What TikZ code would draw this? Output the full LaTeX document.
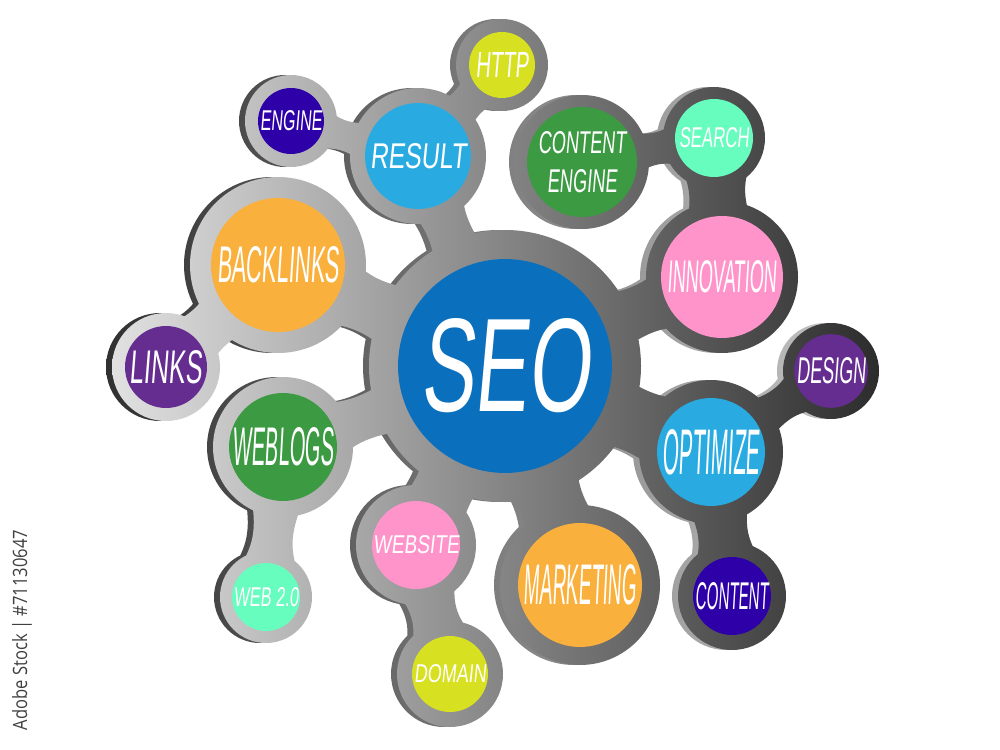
\documentclass[tikz,border=0pt]{standalone}
\usepackage{fontspec}
\usepackage{graphicx}
\usetikzlibrary{calc,backgrounds}
\newfontfamily\hand[FakeSlant=0.15]{Liberation Sans}
\newfontfamily\marksans{Open Sans}
\newlength{\px}\setlength{\px}{0.02cm}
\newcommand{\lbl}[3]{\resizebox{#1\px}{#2\px}{\hand #3}}
\definecolor{seoblue}{HTML}{0A70BE}
\definecolor{tangerine}{HTML}{F9B03C}
\definecolor{grape}{HTML}{662D91}
\definecolor{leaf}{HTML}{3C9A42}
\definecolor{mint}{HTML}{66FDBE}
\definecolor{rose}{HTML}{FF94CB}
\definecolor{lime}{HTML}{D7E021}
\definecolor{sky}{HTML}{29ABE2}
\definecolor{indigo}{HTML}{2E00A8}
\definecolor{ringlight}{HTML}{E4E4E4}
\definecolor{ringmid}{HTML}{A8A8A8}
\definecolor{ringdark}{HTML}{2C2C2C}
% neck between two rings: from, to, pinch fraction, end offset, half width
\newcommand{\neck}[5]{($(#1)!#4*0.02cm!90:(#2)$) .. controls ($(#1)!#3!(#2)!0.02cm*(4*#5-#4)/3!90:(#2)$) .. ($(#2)!#4*0.02cm!-90:(#1)$)
  -- ($(#2)!#4*0.02cm!90:(#1)$) .. controls ($(#1)!#3!(#2)!0.02cm*(4*#5-#4)/3!-90:(#2)$) .. ($(#1)!#4*0.02cm!-90:(#2)$) -- cycle}
\newcommand{\blob}{(seo) circle (136) (backlinks) circle (88) (links) circle (54) (weblogs) circle (70)
  (webtwo) circle (46) (website) circle (60) (domain) circle (53) (marketing) circle (80)
  (result) circle (68) (engine) circle (46) (http) circle (46) (contengine) circle (67)
  (search) circle (51) (innovation) circle (76) (design) circle (48) (optimize) circle (72) (content) circle (54)
  \neck{seo}{backlinks}{0.633}{80}{28} \neck{backlinks}{links}{0.647}{48}{24}
  \neck{seo}{weblogs}{0.687}{62}{22} \neck{weblogs}{webtwo}{0.607}{42}{20}
  \neck{seo}{website}{0.753}{55}{30} \neck{website}{domain}{0.54}{48}{23}
  \neck{seo}{marketing}{0.66}{74}{32} \neck{seo}{result}{0.70}{60}{22}
  \neck{result}{engine}{0.607}{42}{15} \neck{result}{http}{0.62}{42}{17}
  \neck{seo}{innovation}{0.673}{70}{25} \neck{innovation}{search}{0.62}{48}{28}
  \neck{search}{contengine}{0.42}{46}{16} \neck{seo}{optimize}{0.687}{66}{32}
  \neck{optimize}{design}{0.607}{44}{17} \neck{optimize}{content}{0.58}{50}{25}}

\begin{document}
\begin{tikzpicture}[x=0.02cm,y=-0.02cm,disc/.style={circle,inner sep=0pt,minimum size=#1*0.04cm,text=white}]
    \useasboundingbox (0,0) rectangle (1000,750);
    \node[disc=107,fill=seoblue] (seo) at (505,366) {\lbl{170}{93}{SEO}};
    \node[disc=67,fill=tangerine] (backlinks) at (278,265) {\lbl{122}{36}{BACKLINKS}};
    \node[disc=41,fill=grape] (links) at (166,367) {\lbl{72}{33}{LINKS}};
    \node[disc=54,fill=leaf] (weblogs) at (283,447) {\lbl{101}{38}{WEBLOGS}};
    \node[disc=34,fill=mint] (webtwo) at (266,597) {\lbl{65}{19}{WEB 2.0}};
    \node[disc=44,fill=rose] (website) at (416,545) {\lbl{86}{18}{WEBSITE}};
    \node[disc=38,fill=lime] (domain) at (450,674) {\lbl{72}{18}{DOMAIN}};
    \node[disc=62,fill=tangerine] (marketing) at (580,585) {\lbl{113}{40}{MARKETING}};
    \node[disc=53,fill=sky] (result) at (418,156) {\lbl{96}{25}{RESULT}};
    \node[disc=33,fill=indigo] (engine) at (291,121) {\lbl{62}{20}{ENGINE}};
    \node[disc=33,fill=lime] (http) at (502,65) {\lbl{53}{25}{HTTP}};
    \node[disc=55,fill=leaf,align=center] (contengine) at (582,162) {\lbl{88}{22}{CONTENT}\\[14\px]\lbl{70}{23}{ENGINE}};
    \node[disc=39,fill=mint] (search) at (714,138) {\lbl{70}{20}{SEARCH}};
    \node[disc=61,fill=rose] (innovation) at (722,277) {\lbl{110}{32}{INNOVATION}};
    \node[disc=36,fill=grape] (design) at (831,371) {\lbl{69}{26}{DESIGN}};
    \node[disc=54,fill=sky] (optimize) at (711,452) {\lbl{97}{45}{OPTIMIZE}};
    \node[disc=39,fill=indigo] (content) at (732,596) {\lbl{73}{27}{CONTENT}};
    \node[rotate=90,text=black!75] (stockmark) at (22,630) {\resizebox{200\px}{15\px}{\marksans Adobe Stock | \#71130647}};
    \begin{pgfonlayer}{background}
    \begin{scope}[transform canvas={xshift=-0.12cm}]
        \clip \blob;
        \shade[left color=ringdark,right color=ringlight!90!black] (90,0) rectangle (900,750);
    \end{scope}
    \begin{scope}
        \clip \blob;
        \shade[left color=ringlight,middle color=ringmid,right color=ringdark] (100,0) rectangle (880,750);
    \end{scope}
    \end{pgfonlayer}
    \end{tikzpicture}
\end{document}
